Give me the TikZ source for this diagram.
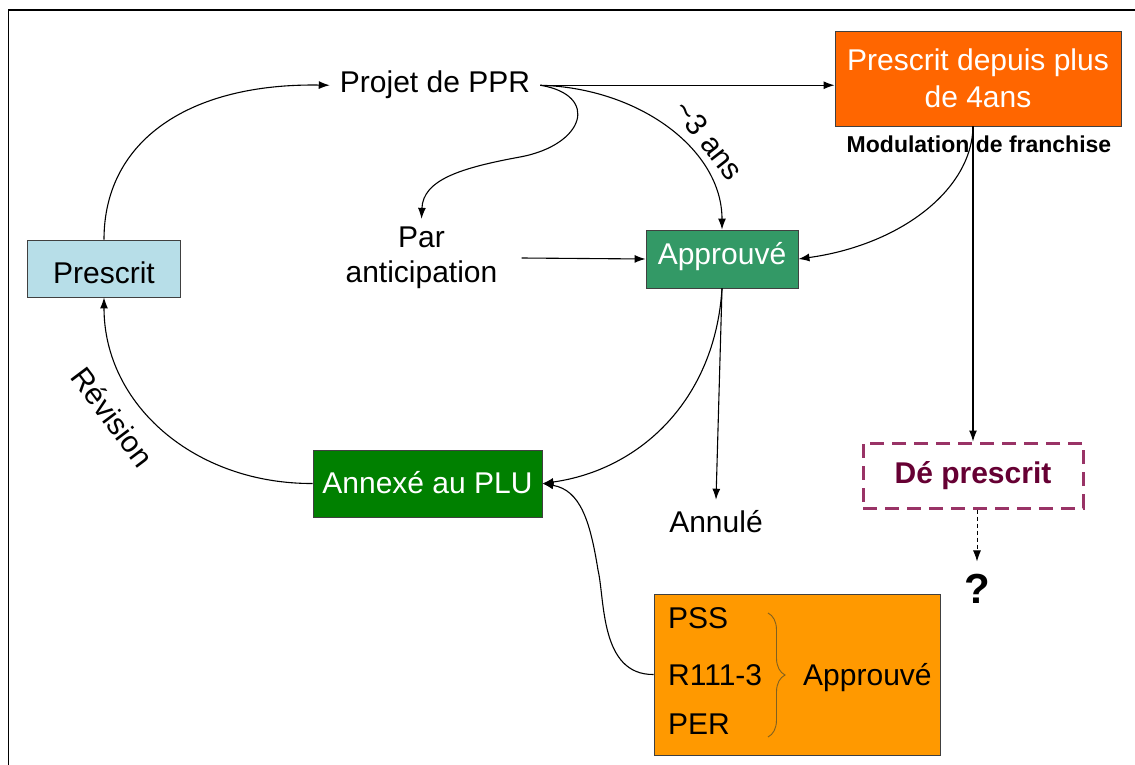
\documentclass[tikz,border=0pt]{standalone}
\usepackage{fontspec}
\setmainfont{Liberation Sans}
\usetikzlibrary{arrows.meta,decorations.pathreplacing,calc}
\definecolor{lblue}{RGB}{183,222,232}
\definecolor{apgreen}{RGB}{51,153,102}
\definecolor{anxgreen}{RGB}{0,128,0}
\definecolor{orange1}{RGB}{255,102,0}
\definecolor{orange2}{RGB}{255,153,0}
\definecolor{dpborder}{RGB}{153,51,102}
\definecolor{dptext}{RGB}{102,0,51}
\definecolor{boxgray}{RGB}{64,64,64}
\definecolor{bracecol}{RGB}{127,96,32}
\begin{document}
\begin{tikzpicture}[x=1pt,y=-1pt,
  every node/.style={font=\fontsize{30}{35}\selectfont},
  conn/.style={line width=1.1pt, -{Latex[length=11pt,width=8pt]}},
  box/.style={draw=boxgray, line width=0.9pt, inner sep=0pt},
  plain/.style={anchor=base, inner sep=10pt},
  inbox/.style={anchor=base west, inner sep=0pt}
]
\useasboundingbox (0,0) rectangle (1135,765);
% frame
\draw[line width=2.5pt] (8,10) -- (1135,10);
\draw[line width=1pt] (8,10) -- (8,765);

% boxes
\node[box, fill=lblue, minimum width=153pt, minimum height=57pt, text height=29pt, text depth=0pt] (prescrit) at (104,268.5) {Prescrit};
\node[box, fill=apgreen, text=white, minimum width=152pt, minimum height=58pt, text height=10pt, text depth=0pt] (approuve) at (722,259) {Approuvé};
\node[box, fill=anxgreen, text=white, minimum width=229pt, minimum height=67pt, text height=19pt, text depth=0pt] (annexe) at (427.5,483.5) {Annexé au PLU};
\node[box, fill=orange1, text=white, minimum width=286pt, minimum height=95pt, align=center, font=\fontsize{30}{37}\selectfont] (presc4) at (978,78.5) {Prescrit depuis plus\\de 4ans};
\node[draw=dpborder, dash pattern=on 14pt off 8pt, line width=3pt, minimum width=220pt, minimum height=65pt, inner sep=0pt, text=dptext, font=\bfseries\fontsize{30}{35}\selectfont, text height=15pt, text depth=0pt] (dp) at (973,475.5) {Dé prescrit};
\node[box, fill=orange2, minimum width=286pt, minimum height=161pt] (ob) at (797,674.5) {};

% plain texts
\node[plain] (projet) at (435,93) {Projet de PPR};
\node[align=center, inner xsep=24pt, inner ysep=8pt] (par) at (421.5,258) {Par\\anticipation};
\node[plain] (annule) at (716,532) {Annulé};
\node[anchor=base, inner sep=2pt, font=\bfseries\fontsize{23}{28}\selectfont] (modul) at (979,153) {Modulation de franchise};
\node[anchor=base, inner sep=12pt, font=\bfseries\fontsize{42}{48}\selectfont] (q) at (977,603) {?};

% contents of lower orange box
\node[inbox] (pss) at (668,628) {PSS};
\node[inbox] (r111) at (668,685) {R111-3};
\node[inbox] (per) at (668,734) {PER};
\node[inbox] (appr2) at (803,685) {Approuvé};
\draw[bracecol, line width=0.9pt, decorate, decoration={brace, amplitude=17pt}] (768,613) -- (768,737);

% labels
\node[rotate=-52, inner sep=0pt] (lab3) at (709,140) {\textasciitilde 3 ans};
\node[rotate=-53, inner sep=0pt] (labrev) at (113,417) {Révision};

% connectors
\draw[conn] (prescrit.north) .. controls (104,140) and (190,83) .. (projet.west);
\draw[conn] (projet.east) -- (projet.east -| presc4.west);
\draw[conn] (projet.east) .. controls (640,88) and (722,150) .. (approuve.north);
\draw[conn] (projet.east) .. controls (600,95) and (585,145) .. (520,157) .. controls (460,168) and (423,180) .. (par.north);
\draw[conn] (par.east) -- (approuve.west);
\draw[conn] (presc4.south -| dp.north) .. controls (972,190) and (900,245) .. (approuve.east);
\draw[conn] (presc4.south -| dp.north) -- (dp.north);
\draw[conn, line width=0.9pt, dash pattern=on 4pt off 3pt] (dp.south -| q.north) -- (q.north);
\draw[conn] (approuve.south) -- (annule.north);
\draw[conn] (approuve.south) .. controls (715,400) and (640,470) .. (annexe.east);
\draw[conn] (ob.west) .. controls (600,675) and (605,600) .. (598,570) .. controls (590,520) and (580,490) .. (annexe.east);
\draw[conn] (annexe.west) .. controls (195,484) and (104,405) .. (prescrit.south);
\end{tikzpicture}
\end{document}
